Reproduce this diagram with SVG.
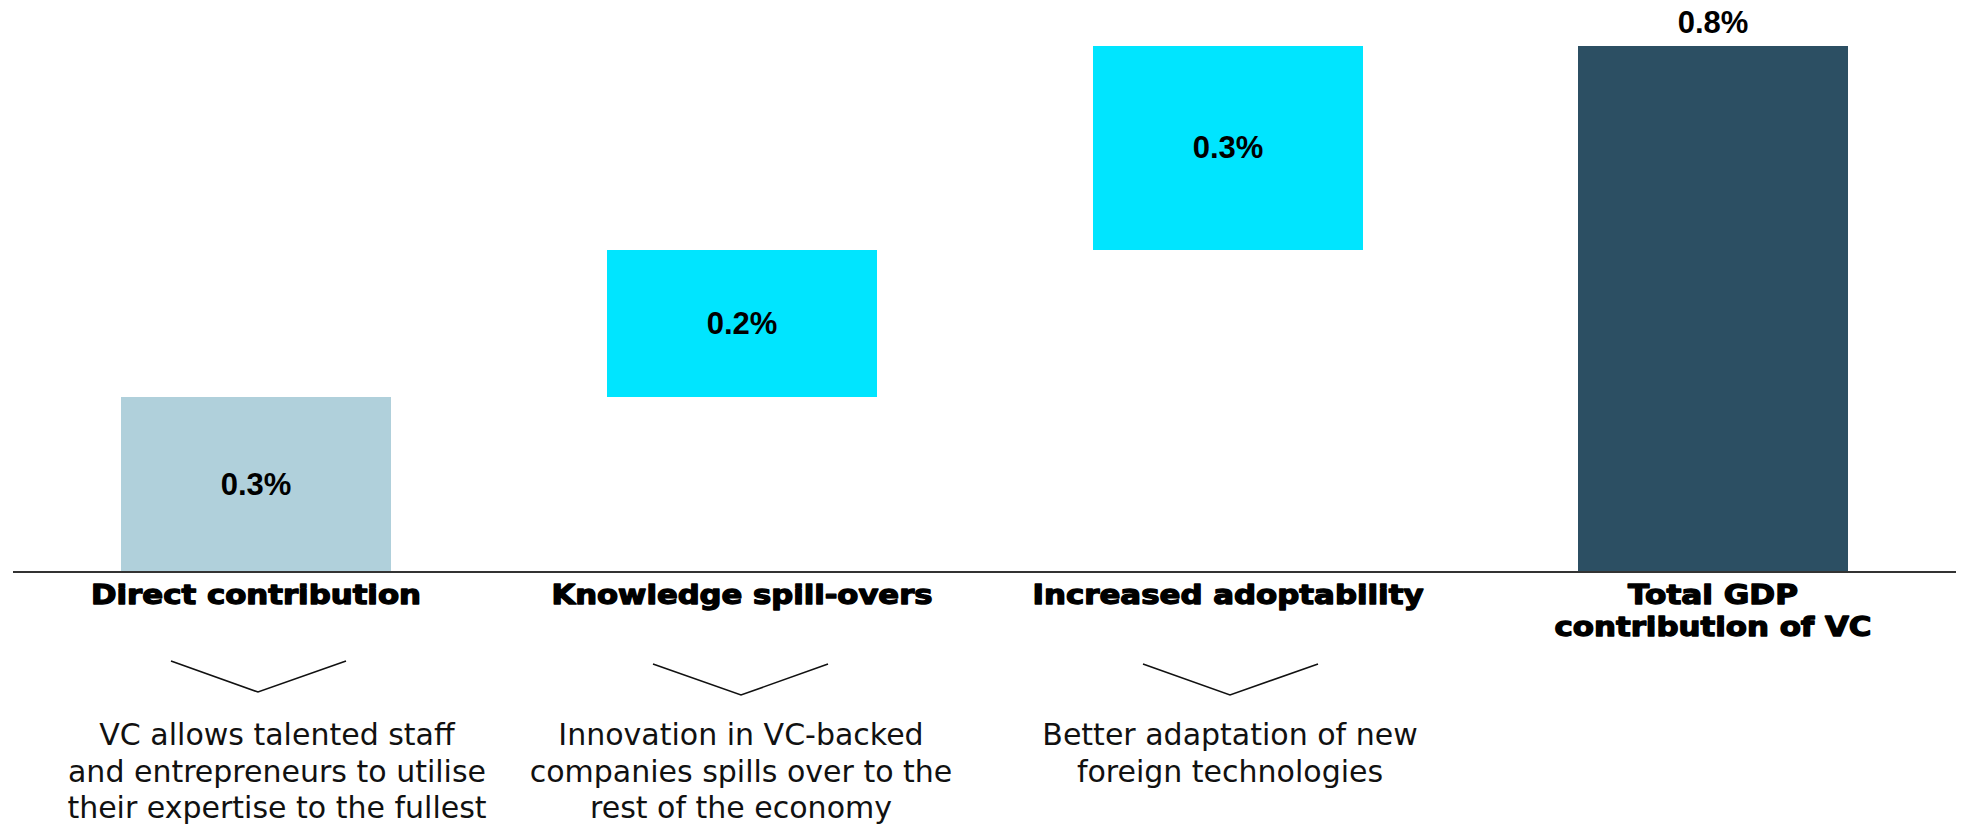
<svg xmlns="http://www.w3.org/2000/svg" width="1966" height="830" viewBox="0 0 1966 830">
<style>
.val{font-family:"Liberation Sans",Arial,sans-serif;font-weight:bold;font-size:31px;fill:#000;text-anchor:middle}
.lbl{font-family:"DejaVu Sans","Liberation Sans",sans-serif;font-weight:bold;font-size:26px;fill:#000;stroke:#000;stroke-width:1.3px;stroke-linejoin:round;text-anchor:middle}
.desc{font-family:"DejaVu Sans","Liberation Sans",sans-serif;font-size:30px;fill:#111;text-anchor:middle}
.chev{fill:none;stroke:#111;stroke-width:1.6}
.axis{stroke:#333;stroke-width:2}
</style>
<rect width="1966" height="830" fill="#fff"/>
<g id="bar-direct">
<rect x="121" y="397" width="270" height="175" fill="#B0D0DB"/>
<text class="val" x="256" y="495">0.3%</text>
<text class="lbl" x="256" y="604" textLength="330" lengthAdjust="spacingAndGlyphs">Direct contribution</text>
<text class="desc" x="277" y="745">VC allows talented staff</text>
<text class="desc" x="277" y="782">and entrepreneurs to utilise</text>
<text class="desc" x="277" y="818">their expertise to the fullest</text>
</g>
<g id="bar-knowledge">
<rect x="607" y="250" width="270" height="147" fill="#00E5FF"/>
<text class="val" x="742" y="334">0.2%</text>
<text class="lbl" x="742" y="604" textLength="381" lengthAdjust="spacingAndGlyphs">Knowledge spill-overs</text>
<text class="desc" x="741" y="745">Innovation in VC-backed</text>
<text class="desc" x="741" y="782">companies spills over to the</text>
<text class="desc" x="741" y="818">rest of the economy</text>
</g>
<g id="bar-adoptability">
<rect x="1093" y="46" width="270" height="204" fill="#00E5FF"/>
<text class="val" x="1228" y="158">0.3%</text>
<text class="lbl" x="1228" y="604" textLength="391" lengthAdjust="spacingAndGlyphs">Increased adoptability</text>
<text class="desc" x="1230" y="745">Better adaptation of new</text>
<text class="desc" x="1230" y="782">foreign technologies</text>
</g>
<g id="bar-total">
<rect x="1578" y="46" width="270" height="526" fill="#2C4F63"/>
<text class="val" x="1713" y="33">0.8%</text>
<text class="lbl" x="1713" y="604" textLength="170" lengthAdjust="spacingAndGlyphs">Total GDP</text>
<text class="lbl" x="1713" y="636" textLength="317" lengthAdjust="spacingAndGlyphs">contribution of VC</text>
</g>
<g id="axis">
<line class="axis" x1="13" y1="572" x2="1956" y2="572"/>
</g>
<g id="connectors">
<polyline class="chev" points="171,661 258,692 346,661"/>
<polyline class="chev" points="653,664 741,695 828,664"/>
<polyline class="chev" points="1143,664 1230,695 1318,664"/>
</g>
</svg>
